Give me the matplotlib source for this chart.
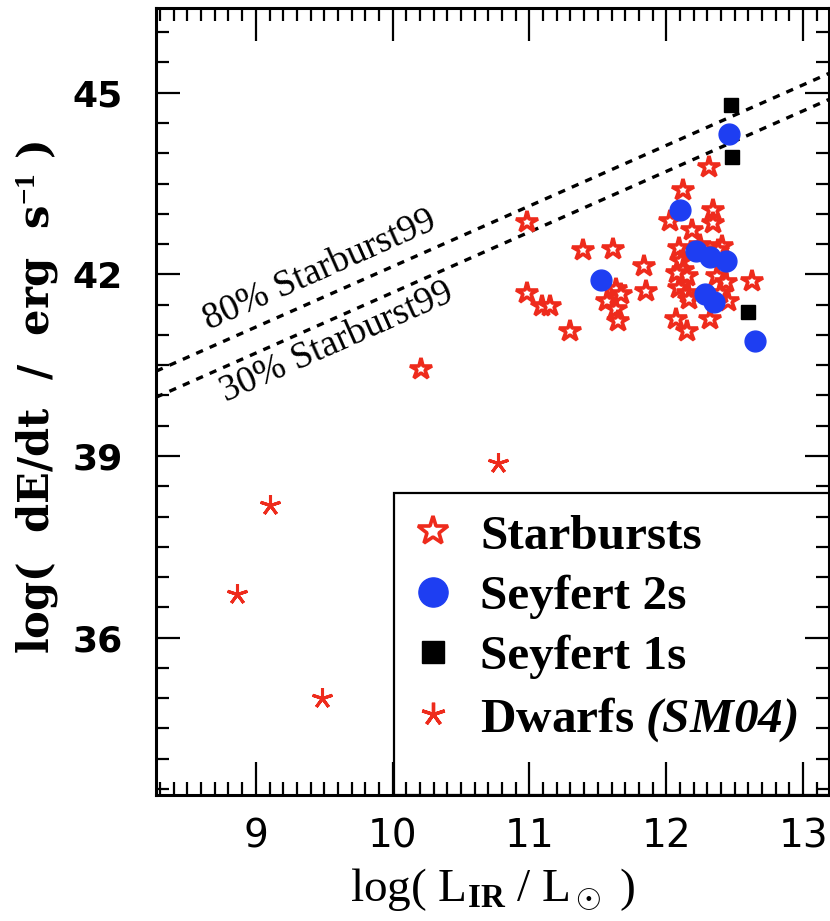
import matplotlib
matplotlib.use('Agg')
import matplotlib.pyplot as plt
from matplotlib.lines import Line2D
from matplotlib.patches import Rectangle
from matplotlib.ticker import MultipleLocator

plt.rcParams['mathtext.fontset'] = 'custom'
plt.rcParams['mathtext.rm'] = 'Liberation Serif'
plt.rcParams['mathtext.it'] = 'Liberation Serif:italic'
plt.rcParams['mathtext.bf'] = 'Liberation Serif:bold'
plt.rcParams['mathtext.bfit'] = 'Liberation Serif:italic:bold'

# starbursts (open stars)
sb_x = [10.21, 10.98, 10.98, 11.09, 11.15, 11.30, 11.39, 11.61, 11.84, 11.85,
        11.63, 11.57, 11.67, 11.63, 11.65, 12.31, 12.12, 12.03, 12.19, 12.34,
        12.34, 12.09, 12.11, 12.12, 12.15, 12.08, 12.09, 12.16, 12.17, 12.41,
        12.37, 12.44, 12.45, 12.39, 12.32, 12.07, 12.15, 12.63, 12.38, 12.25]
sb_y = [40.43, 42.87, 41.70, 41.48, 41.48, 41.07, 42.40, 42.42, 42.13, 41.73,
        41.76, 41.56, 41.67, 41.43, 41.23, 43.78, 43.40, 42.88, 42.74, 43.07,
        42.85, 42.44, 42.22, 42.08, 41.97, 42.03, 41.78, 41.70, 41.59, 42.47,
        41.97, 41.87, 41.56, 41.70, 41.26, 41.26, 41.07, 41.89, 42.41, 42.49]

# seyfert 2s (blue circles)
sy2_x = [12.46, 12.10, 11.52, 12.22, 12.32, 12.44, 12.28, 12.35, 12.65]
sy2_y = [44.32, 43.07, 41.91, 42.38, 42.28, 42.22, 41.67, 41.54, 40.90]

# seyfert 1s (black squares)
sy1_x = [12.47, 12.48, 12.60]
sy1_y = [44.80, 43.94, 41.38]

# dwarfs SM04
dw_x = [8.86, 9.10, 9.48, 10.77]
dw_y = [36.72, 38.19, 35.01, 38.89]

# starburst99 lines (endpoints)
line_x = [8.27, 13.19]
line80_y = [40.40, 45.32]
line30_y = [39.97, 44.89]

red = '#ee2b1c'
blue = '#1e3ef2'
star_mk = (5, 2, 0)

fig = plt.figure(figsize=(8.3, 9.21), dpi=100)
ax = fig.add_axes([156 / 830, 126 / 921, 673 / 830, 787 / 921])

ax.plot(line_x, line80_y, color='black', lw=2.4, ls=(0, (2.2, 2.2)), zorder=1)
ax.plot(line_x, line30_y, color='black', lw=2.4, ls=(0, (2.2, 2.2)), zorder=1)

ax.plot(sb_x, sb_y, ls='none', marker='*', ms=16, mfc='white', mec=red, mew=2.6, zorder=2)
ax.plot(sy2_x, sy2_y, ls='none', marker='o', ms=15, mfc=blue, mec=blue, zorder=3)
ax.plot(sy1_x, sy1_y, ls='none', marker='s', ms=10.5, mfc='black', mec='black', zorder=4)
ax.plot(dw_x, dw_y, ls='none', marker=star_mk, ms=15, mec=red, mew=2.2, zorder=4)

ax.text(9.47, 42.07, '80% Starburst99', rotation=24, fontsize=27, family='Liberation Serif',
        ha='center', va='center')
ax.text(9.59, 40.88, '30% Starburst99', rotation=24, fontsize=27, family='Liberation Serif',
        ha='center', va='center')

ax.set_xlim(8.27, 13.19)
ax.set_ylim(33.4, 46.4)
ax.set_xticks([9, 10, 11, 12, 13])
ax.set_yticks([36, 39, 42, 45])
ax.xaxis.set_minor_locator(MultipleLocator(0.1))
ax.yaxis.set_minor_locator(MultipleLocator(0.5))
ax.tick_params(which='both', direction='in', top=True, right=True, width=1.6)
ax.tick_params(axis='x', which='major', length=24, pad=16, labelsize=28)
ax.tick_params(axis='y', which='major', length=17, pad=24, labelsize=26)
ax.tick_params(which='minor', length=9.5)
for lab in ax.get_yticklabels():
    lab.set_fontweight('bold')
for sp in ax.spines.values():
    sp.set_linewidth(2.2)

ax.set_xlabel(r'log( L$_{\mathbf{IR}}$ / L$_\odot$ )', fontsize=34, family='Liberation Serif',
              labelpad=8)
ax.set_ylabel(r'log(  dE/dt  /  erg  s$^{\mathbf{-1}}$ )', fontsize=30, family='DejaVu Serif',
              fontweight='bold')
ax.yaxis.set_label_coords(-0.142, 0.505)

ax.add_patch(Rectangle((0.353, 0.0), 0.7, 0.384, transform=ax.transAxes, fill=False,
                       lw=1.6, ec='black', zorder=5, clip_on=True))

handles = [
    Line2D([], [], ls='none', marker='*', ms=22, mfc='white', mec=red, mew=2.6),
    Line2D([], [], ls='none', marker='o', ms=21, mfc=blue, mec=blue),
    Line2D([], [], ls='none', marker='s', ms=16, mfc='black', mec='black'),
    Line2D([], [], ls='none', marker=star_mk, ms=17, mec=red, mew=2.4),
]
labels = ['Starbursts', 'Seyfert 2s', 'Seyfert 1s', r'Dwarfs $\mathbfit{(SM04)}$']
leg = ax.legend(handles, labels, loc='upper left', bbox_to_anchor=(0.383, 0.357),
                frameon=False, borderpad=0, borderaxespad=0, handlelength=0.8,
                handletextpad=0.55, labelspacing=0.32,
                prop={'family': 'Liberation Serif', 'weight': 'bold', 'size': 35.5})

fig.savefig('out.png', dpi=100)
